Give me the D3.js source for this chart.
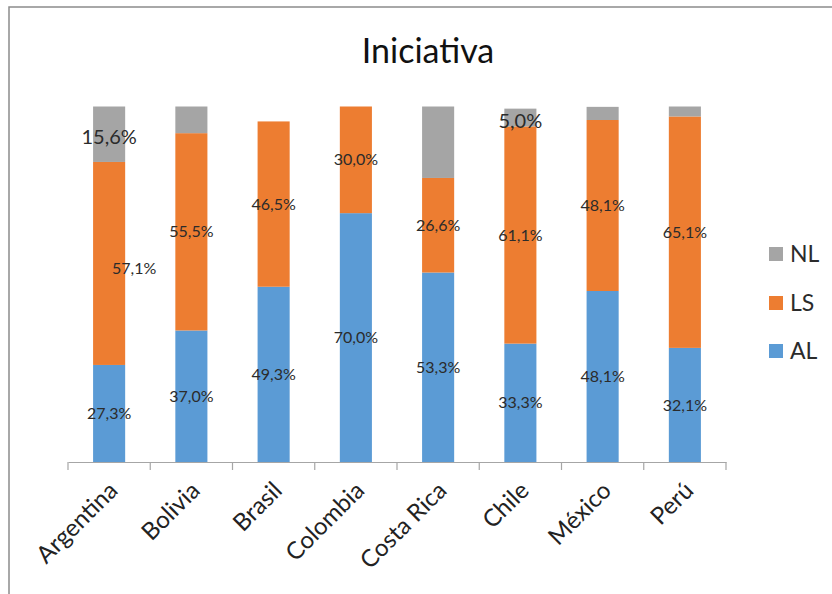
<!DOCTYPE html>
<html><head><meta charset="utf-8">
<script src="https://cdn.jsdelivr.net/npm/d3@7"></script>
<style>
html,body{margin:0;padding:0;background:#fff;}
svg{display:block;font-family:Lato, "Open Sans", sans-serif;}
</style></head>
<body>
<svg id="chart" width="832" height="594"></svg>
<script>
const categories = ["Argentina","Bolivia","Brasil","Colombia","Costa Rica","Chile","México","Perú"];
const AL = [27.3, 37.0, 49.3, 70.0, 53.3, 33.3, 48.1, 32.1];
const LS = [57.1, 55.5, 46.5, 30.0, 26.6, 61.1, 48.1, 65.1];
const NL = [15.6, 7.5, 0, 0, 20.1, 5.0, 3.7, 2.8];
const seriesNames = ["AL","LS","NL"];
const seriesColors = ["#5B9BD5","#ED7D31","#A5A5A5"];
const labelledNL = ["Argentina","Chile"];
const chartTitle = "Iniciativa";

const svg = d3.select("#chart");
svg.append("rect").attr("x",9).attr("y",7).attr("width",900).attr("height",700)
  .attr("fill","#fff").attr("stroke","#8c8c8c").attr("stroke-width",1.5);

const x = d3.scaleBand().domain(categories).range([68,726]).paddingInner(0.61).paddingOuter(0.305);
const y = d3.scaleLinear().domain([0,100]).range([462,106.5]);
const color = d3.scaleOrdinal().domain(seriesNames).range(seriesColors);

const rows = categories.map((c,i)=>({cat:c, AL:AL[i], LS:LS[i], NL:NL[i]}));
const stack = d3.stack().keys(seriesNames)(rows);

svg.append("text").attr("x",428).attr("y",63).attr("text-anchor","middle")
  .attr("font-size",34).attr("fill","#111").text(chartTitle);

const g = svg.append("g");
g.selectAll("g.series").data(stack).join("g").attr("class","series")
  .attr("fill",d=>color(d.key))
  .selectAll("rect").data(d=>d).join("rect")
  .attr("x",d=>x(d.data.cat)).attr("width",x.bandwidth())
  .attr("y",d=>y(d[1])).attr("height",d=>y(d[0])-y(d[1]));

// axis
const axis = d3.axisBottom(x).tickSize(0).tickFormat("");
const ax = svg.append("g").attr("transform","translate(0,462)").call(axis);
ax.select(".domain").attr("stroke","#a6a6a6").attr("stroke-width",1.2);
const bounds = d3.range(categories.length+1).map(i=>x.range()[0]+x.step()*i);
svg.append("g").selectAll("line").data(bounds).join("line")
  .attr("x1",d=>d).attr("x2",d=>d).attr("y1",462).attr("y2",470)
  .attr("stroke","#a6a6a6").attr("stroke-width",1.2);

// category labels
svg.append("g").selectAll("text").data(categories).join("text")
  .attr("text-anchor","end").attr("font-size",24).attr("fill","#222")
  .attr("transform",d=>`translate(${x(d)+x.bandwidth()/2+10},492) rotate(-45)`)
  .text(d=>d);

// data labels
const fmt = v => d3.format(".1f")(v).replace(".",",") + "%";
stack.forEach(s=>{
  s.forEach(d=>{
    const v = d[1]-d[0];
    if (v<=0) return;
    if (s.key==="NL" && !labelledNL.includes(d.data.cat)) return;
    let cx = x(d.data.cat)+x.bandwidth()/2;
    let cy = (y(d[0])+y(d[1]))/2;
    let fs = 16;
    if (s.key==="NL") { fs = 20; cy += 3; }
    if (s.key==="LS" && d.data.cat==="Argentina") { cx += 25; cy += 5; }
    svg.append("text").attr("x",cx).attr("y",cy).attr("dy","0.35em")
      .attr("text-anchor","middle").attr("font-size",fs).attr("fill","#2b2b2b")
      .text(fmt(v));
  });
});

// legend
const legendOrder = ["NL","LS","AL"];
const ly = [254,303,351];
const lg = svg.append("g");
legendOrder.forEach((k,i)=>{
  lg.append("rect").attr("x",769).attr("y",ly[i]-7).attr("width",14).attr("height",14).attr("fill",color(k));
  lg.append("text").attr("x",790).attr("y",ly[i]).attr("dy","0.36em").attr("font-size",23).attr("fill","#2b2b2b").text(k);
});
</script>
</body></html>
